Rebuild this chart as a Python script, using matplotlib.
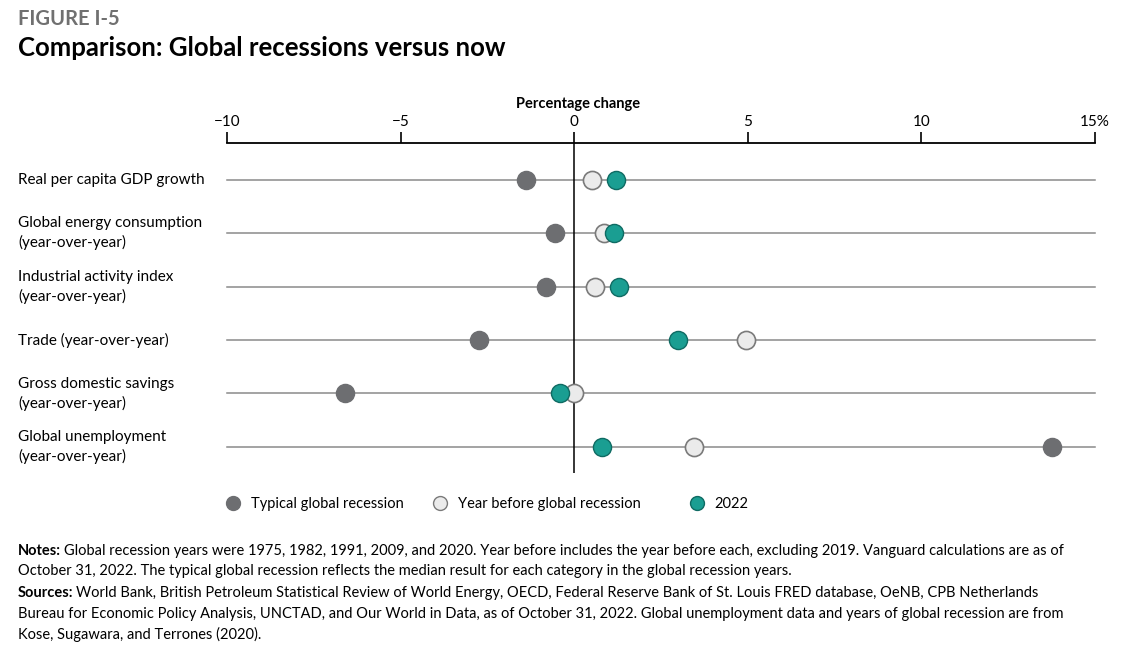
import matplotlib.pyplot as plt
from matplotlib.lines import Line2D

plt.rcParams['font.family'] = ['Lato', 'DejaVu Sans']

categories = [
    "Real per capita GDP growth",
    "Global energy consumption\n(year-over-year)",
    "Industrial activity index\n(year-over-year)",
    "Trade (year-over-year)",
    "Gross domestic savings\n(year-over-year)",
    "Global unemployment\n(year-over-year)",
]
typical_recession = [-1.4, -0.55, -0.8, -2.75, -6.6, 13.75]
year_before = [0.5, 0.85, 0.6, 4.95, 0.0, 3.45]
now_2022 = [1.2, 1.15, 1.3, 3.0, -0.4, 0.8]
xticks = [-10, -5, 0, 5, 10, 15]
xtick_labels = ["\u221210", "\u22125", "0", "5", "10", "15%"]
series_names = ["Typical global recession", "Year before global recession", "2022"]

DARK = "#6d6e71"
LIGHT = "#ebebeb"
LIGHT_EDGE = "#7a7a7a"
TEAL = "#1a9e92"
TEAL_EDGE = "#0f6b63"
ROW = "#8a8a8a"

W, H = 1128, 649
fig = plt.figure(figsize=(W / 100, H / 100), dpi=100)

# axes in pixel coords: x 227..1095, y 143..473
ax = fig.add_axes([227 / W, 1 - 473 / H, (1095 - 227) / W, (473 - 143) / H])
ax.set_xlim(-10, 15)
ax.set_ylim(5.49, -0.69)

for i in range(len(categories)):
    ax.plot([-10, 15], [i, i], color=ROW, lw=1.1, zorder=1, clip_on=False)
ax.axvline(0, color="black", lw=1.1, zorder=2)

ms = 170
ax.scatter(typical_recession, range(6), s=ms, color=DARK, edgecolor=DARK, lw=1, zorder=3, clip_on=False)
ax.scatter(year_before, range(6), s=ms, color=LIGHT, edgecolor=LIGHT_EDGE, lw=1.2, zorder=4, clip_on=False)
ax.scatter(now_2022, range(6), s=ms, color=TEAL, edgecolor=TEAL_EDGE, lw=1, zorder=5, clip_on=False)

for sp in ["left", "right", "bottom"]:
    ax.spines[sp].set_visible(False)
ax.spines["top"].set_linewidth(1.3)
ax.xaxis.tick_top()
ax.set_xticks(xticks)
ax.set_xticklabels(xtick_labels, fontsize=11)
ax.tick_params(axis="x", direction="out", length=8, width=1.2, pad=2, colors="black")
ax.set_yticks([])

for i, c in enumerate(categories):
    fig.text(18 / W, 1 - (180 + (i * 53.4)) / H, c, fontsize=11, va="center", ha="left",
             linespacing=1.4)

fig.text(578 / W, 1 - 104 / H, "Percentage change", fontsize=10.5, fontweight="bold",
         ha="center", va="center")

fig.text(18 / W, 1 - 19 / H, "FIGURE I-5", fontsize=14.5, fontweight="bold", color="#707070",
         ha="left", va="center")
fig.text(18 / W, 1 - 48 / H, "Comparison: Global recessions versus now", fontsize=18.5,
         fontweight="bold", ha="left", va="center")

# legend: one entry per legend so each marker sits where the reference has it
handles = [
    Line2D([], [], ls="none", marker="o", ms=10, mfc=DARK, mec=DARK),
    Line2D([], [], ls="none", marker="o", ms=10, mfc=LIGHT, mec=LIGHT_EDGE),
    Line2D([], [], ls="none", marker="o", ms=10, mfc=TEAL, mec=TEAL_EDGE),
]
leg_x = [233, 440, 697]
fs = 10.5
half_handle = 0.5 * fs * 100 / 72
for h, name, x in zip(handles, series_names, leg_x):
    lg = fig.legend([h], [name], loc="center left",
                    bbox_to_anchor=((x - half_handle) / W, 1 - 504 / H),
                    frameon=False, fontsize=fs, handletextpad=0.72, handlelength=1.0,
                    borderpad=0, borderaxespad=0)

renderer = fig.canvas.get_renderer()


def rich_line(y, bold, rest, fs=10.5):
    t = fig.text(18 / W, 1 - y / H, bold, fontsize=fs, fontweight="bold", ha="left", va="center")
    bb = t.get_window_extent(renderer)
    fig.text((bb.x1 + 3) / W, 1 - y / H, rest, fontsize=fs, ha="left", va="center")


rich_line(551, "Notes:", "Global recession years were 1975, 1982, 1991, 2009, and 2020. Year before includes the year before each, excluding 2019. Vanguard calculations are as of")
fig.text(18 / W, 1 - 571 / H,
         "October 31, 2022. The typical global recession reflects the median result for each category in the global recession years.",
         fontsize=10.5, ha="left", va="center")
rich_line(593, "Sources:", "World Bank, British Petroleum Statistical Review of World Energy, OECD, Federal Reserve Bank of St. Louis FRED database, OeNB, CPB Netherlands")
fig.text(18 / W, 1 - 614 / H,
         "Bureau for Economic Policy Analysis, UNCTAD, and Our World in Data, as of October 31, 2022. Global unemployment data and years of global recession are from",
         fontsize=10.5, ha="left", va="center")
fig.text(18 / W, 1 - 634 / H, "Kose, Sugawara, and Terrones (2020).",
         fontsize=10.5, ha="left", va="center")

fig.savefig("out.png", dpi=100)
